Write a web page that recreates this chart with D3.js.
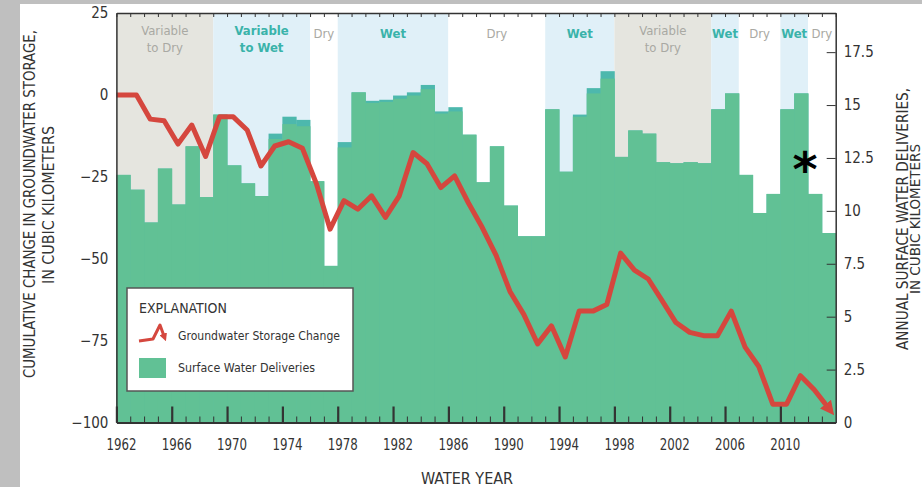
<!DOCTYPE html>
<html><head><meta charset="utf-8">
<script src="https://cdn.jsdelivr.net/npm/d3@7"></script>
<style>
html,body{margin:0;padding:0;background:#fff;}
svg{display:block;}
text{font-family:'Liberation Sans Narrow','DejaVu Sans Condensed','Arial Narrow','Liberation Sans',sans-serif;fill:#333;}
</style></head><body>
<svg id="c" width="922" height="487"></svg>
<script>
// ---------- DATA ----------
const years = [1962,1963,1964,1965,1966,1967,1968,1969,1970,1971,1972,1973,1974,1975,1976,1977,1978,1979,1980,1981,1982,1983,1984,1985,1986,1987,1988,1989,1990,1991,1992,1993,1994,1995,1996,1997,1998,1999,2000,2001,2002,2003,2004,2005,2006,2007,2008,2009,2010,2011,2012,2013];
// Annual surface water deliveries (km3), right axis
const deliveries = [11.7,11.0,9.45,12.0,10.3,13.05,10.65,14.55,12.15,11.3,10.7,13.4,14.1,14.0,11.4,7.4,13.0,15.6,15.1,15.15,15.3,15.45,15.75,14.6,14.7,13.6,11.35,13.05,10.25,8.8,8.8,14.8,11.85,14.45,15.55,16.25,12.55,13.8,13.65,12.3,12.25,12.3,12.25,14.8,15.55,11.7,9.9,10.8,14.8,15.55,10.8,8.95];
// Upper (teal) edge of the delivery bars
const deliveriesUpper = [11.7,11.0,9.45,12.0,10.3,13.05,10.65,14.55,12.15,11.3,10.7,13.65,14.45,14.3,11.4,7.4,13.25,15.6,15.2,15.25,15.45,15.6,15.95,14.7,14.9,13.6,11.35,13.05,10.25,8.8,8.8,14.8,11.85,14.55,15.8,16.6,12.55,13.8,13.65,12.3,12.25,12.3,12.25,14.8,15.55,11.7,9.9,10.8,14.8,15.55,10.8,8.95];
// Cumulative groundwater storage change (km3), left axis
const gwChange = [0,0,-7.4,-7.9,-15.0,-9.2,-18.8,-6.7,-6.7,-10.7,-21.7,-15.6,-14.3,-16.3,-27,-41,-32.3,-34.9,-30.8,-37.4,-30.8,-17.6,-21,-28.3,-24.7,-33,-40.5,-49,-60,-67,-76,-70.5,-80,-66,-66,-64,-48.3,-53.5,-56.2,-62.8,-69.5,-72.5,-73.5,-73.5,-66,-77,-83,-94.4,-94.4,-85.7,-90,-95.4];
// Climate periods
const bandStart = [1962,1969,1976,1978,1986,1993,1998,2005,2007,2010,2012];
const bandEnd   = [1969,1976,1978,1986,1993,1998,2005,2007,2010,2012,2014];
const bandType  = ["vardry","varwet","dry","wet","dry","wet","vardry","wet","dry","wet","dry"];
const bandLabel = [["Variable","to Dry"],["Variable","to Wet"],["Dry"],["Wet"],["Dry"],["Wet"],["Variable","to Dry"],["Wet"],["Dry"],["Wet"],["Dry"]];
// Tick labels
const xMajorTicks = [1962,1966,1970,1974,1978,1982,1986,1990,1994,1998,2002,2006,2010];
const leftTicks = [25,0,-25,-50,-75,-100];
const rightTicks = [0,2.5,5,7.5,10,12.5,15,17.5];

// ---------- STYLE ----------
const C = {green:"#61c195", teal:"#4db8ad", red:"#d5473e", gray:"#e5e5df", blue:"#e0f0f8", grayTxt:"#a9a9a3", tealTxt:"#3ab3aa", axis:"#333"};
const bandFill = {vardry:C.gray, varwet:C.blue, wet:C.blue, dry:"#fff"};
const bandTxt = {vardry:C.grayTxt, varwet:C.tealTxt, wet:C.tealTxt, dry:C.grayTxt};

const svg = d3.select("#c");
const L = 116.4, R = 835.7, T = 13, B = 422.5;
const x = d3.scaleLinear().domain([1962, 2014]).range([L, R]);
const yL = d3.scaleLinear().domain([-100, 25]).range([B, T]);
const yR = d3.scaleLinear().domain([0, 19.35]).range([B, T]);

// page frame strips
svg.append("rect").attr("x",0).attr("y",0).attr("width",922).attr("height",487).attr("fill","#fff");
svg.append("rect").attr("x",0).attr("y",0).attr("width",20).attr("height",487).attr("fill","#bfbfbf");
svg.append("rect").attr("x",0).attr("y",0).attr("width",922).attr("height",4).attr("fill","#bfbfbf");

// bands
const bands = bandStart.map((s,i)=>({s, e:bandEnd[i], type:bandType[i], label:bandLabel[i]}));
svg.append("g").selectAll("rect").data(bands).join("rect")
  .attr("x",d=>x(d.s)).attr("width",d=>x(d.e)-x(d.s))
  .attr("y",T).attr("height",B-T).attr("fill",d=>bandFill[d.type]);

// bars
const bars = years.map((y,i)=>({y, v:deliveries[i], u:deliveriesUpper[i]}));
svg.append("g").selectAll("rect").data(bars).join("rect")
  .attr("x",d=>x(d.y)).attr("width",d=>x(d.y+1)-x(d.y)+0.4)
  .attr("y",d=>yR(d.u)).attr("height",d=>yR(0)-yR(d.u)).attr("fill",C.teal);
svg.append("g").selectAll("rect").data(bars).join("rect")
  .attr("x",d=>x(d.y)).attr("width",d=>x(d.y+1)-x(d.y)+0.4)
  .attr("y",d=>yR(d.v)).attr("height",d=>yR(0)-yR(d.v)).attr("fill",C.green);

// band labels
const bl = svg.append("g");
bands.forEach(d=>{
  const cx = (x(d.s)+x(d.e))/2;
  const two = d.label.length>1;
  d.label.forEach((t,j)=>{
    bl.append("text").attr("x",cx).attr("y", two ? 35+j*17 : 38)
      .attr("text-anchor","middle").attr("font-size",13)
      .attr("font-weight", bandTxt[d.type]===C.tealTxt ? "bold":"normal")
      .style("fill",bandTxt[d.type]).text(t);
  });
});

// arrow marker
const defs = svg.append("defs");
defs.append("marker").attr("id","arr").attr("viewBox","0 0 10 10").attr("refX",3).attr("refY",5)
  .attr("markerUnits","userSpaceOnUse").attr("markerWidth",14).attr("markerHeight",14).attr("orient","auto")
  .append("path").attr("d","M0,0 L10,5 L0,10 z").attr("fill",C.red);
defs.append("marker").attr("id","arrS").attr("viewBox","0 0 10 10").attr("refX",3).attr("refY",5)
  .attr("markerUnits","userSpaceOnUse").attr("markerWidth",8).attr("markerHeight",8).attr("orient","auto")
  .append("path").attr("d","M0,0 L10,5 L0,10 z").attr("fill",C.red);

// groundwater line
const linePts = [{t:years[0], v:gwChange[0]}].concat(years.map((y,i)=>({t:y+0.45, v:gwChange[i]})));
svg.append("path").datum(linePts)
  .attr("d", d3.line().x(d=>x(d.t)).y(d=>yL(d.v)))
  .attr("fill","none").attr("stroke",C.red).attr("stroke-width",5)
  .attr("stroke-linejoin","round").attr("marker-end","url(#arr)");

// axes
const axStyle = g=>{g.selectAll("path,line").attr("stroke",C.axis); g.selectAll("text").attr("font-family",null).attr("font-size",15).style("fill","#333");};
// top ticks
svg.append("g").attr("transform",`translate(0,${T})`)
  .call(d3.axisTop(x).tickValues(years.concat([2014])).tickSize(-4).tickSizeOuter(0).tickFormat(""))
  .call(axStyle).call(g=>g.select(".domain").attr("stroke-width",1.5));
// bottom minor
svg.append("g").attr("transform",`translate(0,${B})`)
  .call(d3.axisBottom(x).tickValues(years).tickSize(-6).tickSizeOuter(0).tickFormat(""))
  .call(axStyle).call(g=>g.select(".domain").attr("stroke-width",2));
// bottom major
svg.append("g").attr("transform",`translate(0,${B})`)
  .call(d3.axisBottom(x).tickValues(xMajorTicks).tickSize(-16).tickSizeOuter(0).tickPadding(16).tickFormat(d3.format("d")))
  .call(axStyle).call(g=>{g.select(".domain").remove(); g.selectAll(".tick line").attr("stroke-width",2.2);
    g.selectAll("text").attr("dx",4.5).attr("font-size",16).attr("textLength",30).attr("lengthAdjust","spacingAndGlyphs");});
// left
svg.append("g").attr("transform",`translate(${L},0)`)
  .call(d3.axisLeft(yL).tickValues(leftTicks).tickSize(0).tickPadding(8).tickFormat(d3.format("d")))
  .call(axStyle).call(g=>g.select(".domain").attr("stroke-width",1.5));
// right
svg.append("g").attr("transform",`translate(${R},0)`)
  .call(d3.axisRight(yR).tickValues(rightTicks).tickSize(-9).tickSizeOuter(0).tickPadding(8).tickFormat(d=>d))
  .call(axStyle).call(g=>{g.select(".domain").attr("stroke-width",1.5); g.selectAll(".tick line").filter(d=>d===0).remove();});

// axis titles
svg.append("text").attr("transform","translate(29,204) rotate(-90)").attr("text-anchor","middle").attr("dy","0.35em")
  .attr("font-size",16).attr("textLength",348).attr("lengthAdjust","spacingAndGlyphs").text("CUMULATIVE CHANGE IN GROUNDWATER STORAGE,");
svg.append("text").attr("transform","translate(48,205) rotate(-90)").attr("text-anchor","middle").attr("dy","0.35em")
  .attr("font-size",16).attr("textLength",158).attr("lengthAdjust","spacingAndGlyphs").text("IN CUBIC KILOMETERS");
svg.append("text").attr("transform","translate(902,219) rotate(-90)").attr("text-anchor","middle").attr("dy","0.35em")
  .attr("font-size",16).attr("textLength",262).attr("lengthAdjust","spacingAndGlyphs").text("ANNUAL SURFACE WATER DELIVERIES,");
svg.append("text").attr("transform","translate(915,219) rotate(-90)").attr("text-anchor","middle").attr("dy","0.35em")
  .attr("font-size",14).attr("textLength",150).attr("lengthAdjust","spacingAndGlyphs").text("IN CUBIC KILOMETERS");
svg.append("text").attr("x",467).attr("y",484).attr("text-anchor","middle").attr("font-size",16).text("WATER YEAR");

// legend
const lg = svg.append("g").attr("transform","translate(127,288)");
lg.append("rect").attr("width",226).attr("height",103).attr("fill","#fff").attr("stroke","#555").attr("stroke-width",1.5);
lg.append("text").attr("x",12).attr("y",25).attr("font-size",14).text("EXPLANATION");
const iconPts = [[0,53],[14,51],[21,37],[25,48]];
lg.append("path").attr("d",d3.line()(iconPts.map(p=>[12+p[0],p[1]]))).attr("fill","none")
  .attr("stroke",C.red).attr("stroke-width",3).attr("stroke-linejoin","round").attr("marker-end","url(#arrS)");
lg.append("text").attr("x",51).attr("y",52).attr("font-size",12.5).attr("textLength",162).attr("lengthAdjust","spacingAndGlyphs").text("Groundwater Storage Change");
lg.append("rect").attr("x",12).attr("y",70).attr("width",27).attr("height",20).attr("fill",C.green);
lg.append("text").attr("x",51).attr("y",84).attr("font-size",12.5).attr("textLength",137).attr("lengthAdjust","spacingAndGlyphs").text("Surface Water Deliveries");

// asterisk
svg.append("text").attr("x",805).attr("y",186).attr("text-anchor","middle").attr("font-size",48)
  .attr("font-weight","bold").style("font-family","'DejaVu Sans',sans-serif").style("fill","#000").text("*");
</script></body></html>
